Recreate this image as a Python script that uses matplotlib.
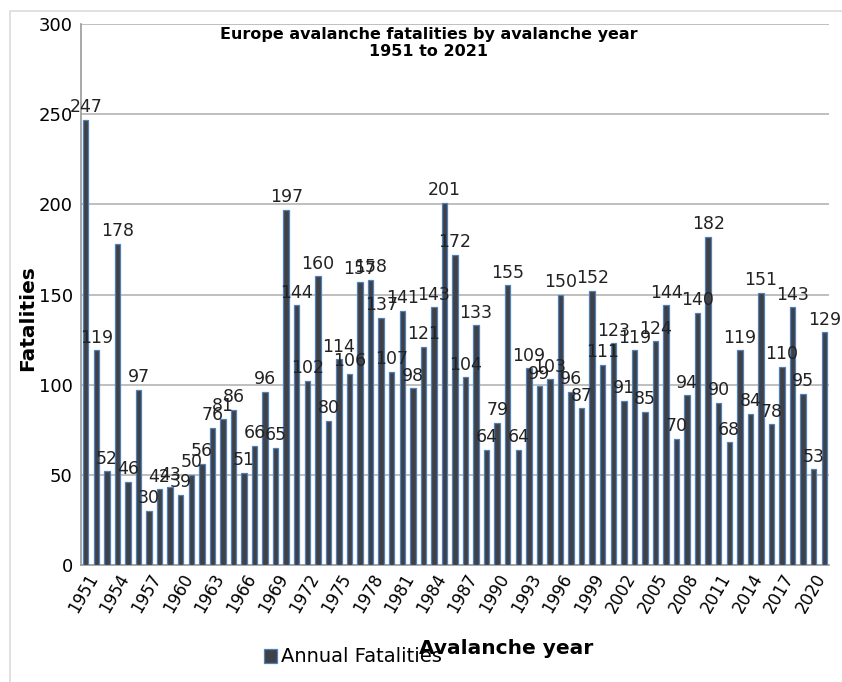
import matplotlib
matplotlib.use("Agg")
import matplotlib.pyplot as plt
from matplotlib.patches import Rectangle
import numpy as np

# annual avalanche fatalities in Europe
years = list(range(1951, 2022))
fatalities = [247, 119, 52, 178, 46, 97, 30, 42, 43, 39,
              50, 56, 76, 81, 86, 51, 66, 96, 65, 197,
              144, 102, 160, 80, 114, 106, 157, 158, 137, 107,
              141, 98, 121, 143, 201, 172, 104, 133, 64, 79,
              155, 64, 109, 99, 103, 150, 96, 87, 152, 111,
              123, 91, 119, 85, 124, 144, 70, 94, 140, 182,
              90, 68, 119, 84, 151, 78, 110, 143, 95, 53,
              129]
tick_years = years[::3]

fig = plt.figure(figsize=(8.42, 6.82), dpi=100)
# thin frame round the chart
fig.patches.append(Rectangle((10/842, -0.1), 1.2, 1 - 11/682 + 0.1,
                             transform=fig.transFigure, fill=False,
                             edgecolor='#dcdcdc', linewidth=1.2))
ax = fig.add_axes([81/842, 1 - 565/682, 748/842, 541/682])

x = np.arange(len(years))
bars = ax.bar(x, fatalities, width=0.52, color='#3f4147',
              edgecolor='#4f81bd', linewidth=0.9, zorder=3,
              label='Annual Fatalities')
for xi, v in zip(x, fatalities):
    ax.text(xi, v + 2, str(v), ha='center', va='bottom', fontsize=12.5,
            color='#222222', zorder=4)

ax.set_ylim(0, 300)
ax.set_yticks(range(0, 301, 50))
ax.set_xlim(-0.45, len(years) - 0.55)
ax.yaxis.grid(True, color='#b4b4b4', linewidth=1.2, zorder=0)
ax.set_xticks([years.index(y) for y in tick_years])
ax.set_xticklabels([str(y) for y in tick_years], rotation=60, ha='right',
                   rotation_mode='anchor', fontsize=12)
ax.tick_params(axis='both', length=0, pad=4)
ax.tick_params(axis='y', labelsize=13, pad=6)
for s in ['top', 'right']:
    ax.spines[s].set_visible(False)
for s in ['left', 'bottom']:
    ax.spines[s].set_color('#9a9a9a')
    ax.spines[s].set_linewidth(1.2)

ax.text(0.465, 0.995, 'Europe avalanche fatalities by avalanche year\n1951 to 2021',
        transform=ax.transAxes, ha='center', va='top', fontsize=11.5,
        fontweight='bold', linespacing=1.15)
fig.text(28/842, 1 - 318/682, 'Fatalities', rotation=90, ha='center',
         va='center', fontsize=14.5, fontweight='bold')
fig.text(506/842, 1 - 648/682, 'Avalanche year', ha='center', va='center',
         fontsize=14.5, fontweight='bold')
fig.legend(handles=[bars], loc='center left', frameon=False, fontsize=14,
           bbox_to_anchor=(254/842, 1 - 657/682), handlelength=0.7,
           handleheight=0.7, handletextpad=0.2, borderpad=0)

fig.savefig('out.png', dpi=100)
